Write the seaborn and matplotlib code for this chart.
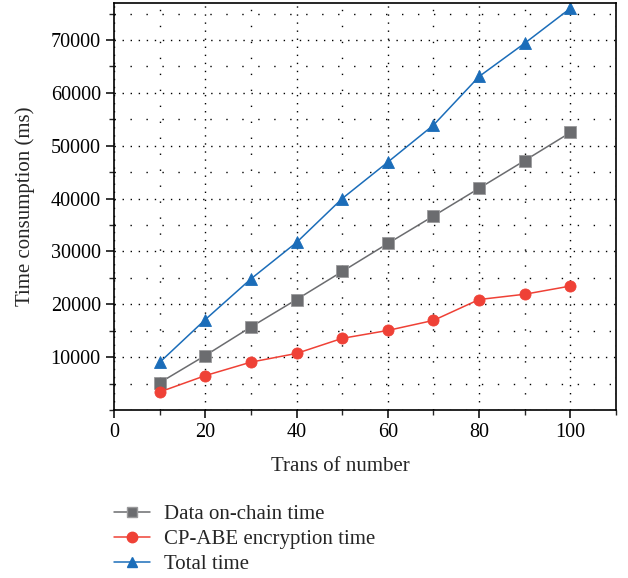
import pandas as pd
import matplotlib
matplotlib.use("Agg")
import matplotlib.pyplot as plt
import seaborn as sns
from matplotlib.ticker import MultipleLocator, FixedLocator

# data
trans = [10, 20, 30, 40, 50, 60, 70, 80, 90, 100]
chain_time = [5150, 10300, 15700, 20900, 26200, 31500, 36700, 41950, 47200, 52500]
abe_time = [3400, 6500, 9050, 10700, 13550, 15050, 16950, 20900, 21900, 23450]
total_time = [9000, 17100, 24800, 31700, 40000, 46900, 53900, 63100, 69400, 76000]

names = ['Data on-chain time', 'CP-ABE encryption time', 'Total time']
colors = ['#6b6c6f', '#ef4136', '#1b6db9']
markers = ['s', 'o', '^']

df = pd.DataFrame({'trans': trans * 3,
                   'time': chain_time + abe_time + total_time,
                   'series': [names[0]] * 10 + [names[1]] * 10 + [names[2]] * 10})

sns.set_style('white')
plt.rcParams['font.family'] = ['Liberation Serif', 'DejaVu Serif']

fig = plt.figure(figsize=(6.28, 5.78), dpi=100)
ax = fig.add_axes([0.1815, 0.2907, 0.7995, 0.7041])

sns.lineplot(data=df, x='trans', y='time', hue='series', style='series',
             palette=colors, markers=markers, dashes=False, ax=ax,
             linewidth=1.1, markersize=8, markeredgewidth=0.6,
             hue_order=names, style_order=names, legend=False)

# square marker edge slightly lighter
for ln, ec in zip(ax.lines, ['#9a9a9c', colors[1], colors[2]]):
    ln.set_markeredgecolor(ec)

ax.set_xlim(0, 110)
ax.set_ylim(0, 77000)
ax.xaxis.set_major_locator(MultipleLocator(20))
ax.xaxis.set_minor_locator(MultipleLocator(10))
ax.yaxis.set_major_locator(FixedLocator([10000, 20000, 30000, 40000, 50000, 60000, 70000]))
ax.yaxis.set_minor_locator(MultipleLocator(5000))

ax.grid(True, which='major', color='black', linestyle=(0, (1, 4.8)), linewidth=1.0)
ax.grid(True, which='minor', color='black', linestyle=(0, (1, 10.5)), linewidth=1.0)
ax.set_axisbelow(True)

for s in ax.spines.values():
    s.set_color('black')
    s.set_linewidth(1.2)

ax.tick_params(axis='both', which='major', direction='out', length=6, width=1.1,
               labelsize=14.5, colors='black', left=True, bottom=True)
ax.tick_params(axis='both', which='minor', direction='out', length=3.5, width=1.0,
               left=True, bottom=True)

ax.set_xlabel('Trans of number', fontsize=15)
ax.set_ylabel('Time consumption (ms)', fontsize=15)
ax.xaxis.set_label_coords(0.45, -0.115)
ax.yaxis.set_label_coords(-0.157, 0.5)

handles = []
for c, m, n in zip(colors, markers, names):
    h, = ax.plot([], [], color=c, marker=m, markersize=7.5, linewidth=1.1, label=n)
    handles.append(h)
handles[0].set_markeredgecolor('#9a9a9c')

fig.legend(handles=handles, labels=names, loc='upper left',
           bbox_to_anchor=(0.169, 0.142), bbox_transform=fig.transFigure,
           frameon=False, fontsize=15, handlelength=1.7, handletextpad=0.67,
           labelspacing=0.27, borderaxespad=0)

fig.savefig('out.png', dpi=100)
